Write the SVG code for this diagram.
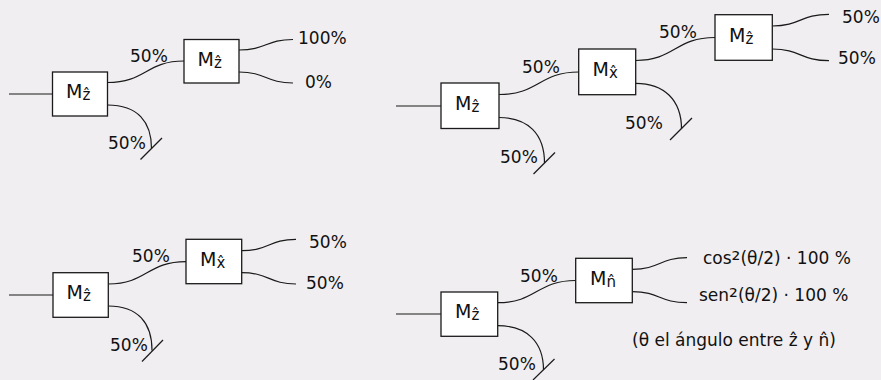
<svg xmlns="http://www.w3.org/2000/svg" width="881" height="380" viewBox="0 0 881 380">
  <style>
    .bg { fill: #f0eef0; }
    .box { fill: #ffffff; stroke: #1a1a1a; stroke-width: 1.3; }
    .wire { fill: none; stroke: #1a1a1a; stroke-width: 1.2; }
    text { font-family: "DejaVu Sans", "Noto Sans", sans-serif; font-size: 17px; fill: #111111; }
    .lbl { font-size: 19px; }
    .sub { font-size: 15px; }
    .sup { font-size: 22px; }
  </style>
  <rect class="bg" x="0" y="0" width="881" height="380"/>

  <!-- connectors -->
  <g id="connectors">
    <!-- panel 1 -->
    <path class="wire" d="M9 94 H52.5"/>
    <path class="wire" d="M107.5 82.5 C146 82.5 146 61 184 61"/>
    <path class="wire" d="M239 50 C266 50 266 39.5 293 39.5"/>
    <path class="wire" d="M239 72 C266 72 266 83 293 83"/>
    <path class="wire" d="M107.5 105 C138 105 151.5 122 151.5 148.5"/>
    <path class="wire" d="M140.5 159.5 L162 138"/>
    <!-- panel 2 -->
    <path class="wire" d="M396 106 H441"/>
    <path class="wire" d="M499 94.5 C539 94.5 539 72 578.7 72"/>
    <path class="wire" d="M635.7 60.5 C675 60.5 675 37.5 715 37.5"/>
    <path class="wire" d="M772.3 26 C800.5 26 800.5 14.3 829 14.3"/>
    <path class="wire" d="M772.3 49 C800.5 49 800.5 60.7 829 60.7"/>
    <path class="wire" d="M635.7 83.3 C664 83.3 681.5 100 681.5 129"/>
    <path class="wire" d="M670 140 L692 118"/>
    <path class="wire" d="M499 117.5 C528 117.5 544.5 134 544.5 163"/>
    <path class="wire" d="M533.5 174 L555 152.5"/>
    <!-- panel 3 -->
    <path class="wire" d="M9 295 H53"/>
    <path class="wire" d="M108.3 284 C147 284 147 261.6 186 261.6"/>
    <path class="wire" d="M241.7 250.7 C269 250.7 269 239.3 296 239.3"/>
    <path class="wire" d="M241.7 272.7 C269 272.7 269 284 296 284"/>
    <path class="wire" d="M108.3 306 C138 306 152 323 152 350.5"/>
    <path class="wire" d="M142 361.5 L163 340"/>
    <!-- panel 4 -->
    <path class="wire" d="M396 314 H441"/>
    <path class="wire" d="M497.7 302.7 C536.7 302.7 536.7 280.5 575.7 280.5"/>
    <path class="wire" d="M632.3 269.3 C659.7 269.3 659.7 257.7 687 257.7"/>
    <path class="wire" d="M632.3 291.7 C659.7 291.7 659.7 302.7 687 302.7"/>
    <path class="wire" d="M497.7 325.7 C527 325.7 543.5 342 543.5 370"/>
    <path class="wire" d="M533 380 L554.5 359"/>
  </g>

  <!-- panel 1 nodes -->
  <g id="p1-mz1">
    <rect class="box" x="52.5" y="72" width="55" height="44"/>
    <text class="lbl" x="66" y="98">M<tspan class="sub" dy="2">ẑ</tspan></text>
  </g>
  <g id="p1-mz2">
    <rect class="box" x="184" y="39.5" width="55" height="43.5"/>
    <text class="lbl" x="197.5" y="65.5">M<tspan class="sub" dy="2">ẑ</tspan></text>
  </g>
  <g id="p1-labels">
    <text x="130" y="61.5">50%</text>
    <text x="298" y="43.5">100%</text>
    <text x="305" y="87.5">0%</text>
    <text x="108" y="149">50%</text>
  </g>

  <!-- panel 2 nodes -->
  <g id="p2-mz1">
    <rect class="box" x="441" y="83" width="58" height="45.5"/>
    <text class="lbl" x="455" y="110">M<tspan class="sub" dy="2">ẑ</tspan></text>
  </g>
  <g id="p2-mx">
    <rect class="box" x="578.7" y="49" width="57" height="45.7"/>
    <text class="lbl" x="592.5" y="76">M<tspan class="sub" dy="2">x&#x302;</tspan></text>
  </g>
  <g id="p2-mz2">
    <rect class="box" x="715" y="14.7" width="57.3" height="45.6"/>
    <text class="lbl" x="729" y="41.5">M<tspan class="sub" dy="2">ẑ</tspan></text>
  </g>
  <g id="p2-labels">
    <text x="522" y="72.5">50%</text>
    <text x="659" y="38">50%</text>
    <text x="842" y="22.5">50%</text>
    <text x="838" y="63.5">50%</text>
    <text x="625" y="129">50%</text>
    <text x="500" y="163">50%</text>
  </g>

  <!-- panel 3 nodes -->
  <g id="p3-mz">
    <rect class="box" x="53" y="272.7" width="55.3" height="44.6"/>
    <text class="lbl" x="66.5" y="299">M<tspan class="sub" dy="2">ẑ</tspan></text>
  </g>
  <g id="p3-mx">
    <rect class="box" x="186" y="239.3" width="55.7" height="44.4"/>
    <text class="lbl" x="200" y="265.5">M<tspan class="sub" dy="2">x&#x302;</tspan></text>
  </g>
  <g id="p3-labels">
    <text x="132" y="261.5">50%</text>
    <text x="309" y="247.5">50%</text>
    <text x="306" y="288.5">50%</text>
    <text x="110" y="350.5">50%</text>
  </g>

  <!-- panel 4 nodes -->
  <g id="p4-mz">
    <rect class="box" x="441" y="292" width="56.7" height="44.3"/>
    <text class="lbl" x="455" y="318">M<tspan class="sub" dy="2">ẑ</tspan></text>
  </g>
  <g id="p4-mn">
    <rect class="box" x="575.7" y="258.3" width="56.6" height="44.4"/>
    <text class="lbl" x="590" y="284.5">M<tspan class="sub" dy="2">n&#x302;</tspan></text>
  </g>
  <g id="p4-labels">
    <text x="520" y="281.5">50%</text>
    <text x="498" y="370">50%</text>
    <text x="703" y="263.5">cos<tspan class="sup" dy="3">²</tspan><tspan dy="-3">(θ/2) · 100 %</tspan></text>
    <text x="699" y="301">sen<tspan class="sup" dy="3">²</tspan><tspan dy="-3">(θ/2) · 100 %</tspan></text>
    <text x="632" y="345.5">(θ el ángulo entre ẑ y n&#x302;)</text>
  </g>
</svg>
